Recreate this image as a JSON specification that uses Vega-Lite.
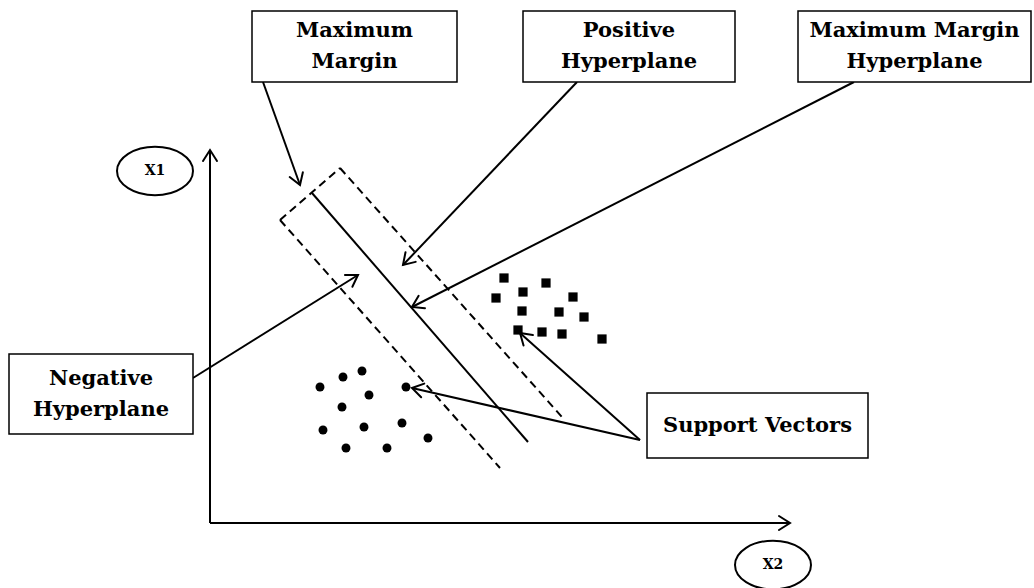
{
  "$schema": "https://vega.github.io/schema/vega-lite/v6.json",
  "width": 1034,
  "height": 588,
  "autosize": "none",
  "padding": 0,
  "background": "white",
  "config": {"view": {"stroke": null}},
  "datasets": {
    "solid": [
      {"x1": 312, "y1": 193, "x2": 528, "y2": 442}
    ],
    "dashed": [
      {"x1": 280, "y1": 220, "x2": 500, "y2": 468},
      {"x1": 340, "y1": 168, "x2": 562, "y2": 417},
      {"x1": 280, "y1": 220, "x2": 340, "y2": 168}
    ],
    "arrows": [
      {"x1": 263, "y1": 82, "x2": 300, "y2": 185},
      {"x1": 577, "y1": 82, "x2": 403, "y2": 265},
      {"x1": 854, "y1": 82, "x2": 412, "y2": 307},
      {"x1": 193, "y1": 378, "x2": 358, "y2": 275},
      {"x1": 640, "y1": 440, "x2": 412, "y2": 388},
      {"x1": 640, "y1": 440, "x2": 520, "y2": 333},
      {"x1": 210, "y1": 523, "x2": 210, "y2": 150},
      {"x1": 210, "y1": 523, "x2": 790, "y2": 523}
    ],
    "circles": [
      {"x": 320, "y": 387}, {"x": 343, "y": 377}, {"x": 362, "y": 371},
      {"x": 369, "y": 395}, {"x": 406, "y": 387}, {"x": 342, "y": 407},
      {"x": 323, "y": 430}, {"x": 364, "y": 427}, {"x": 402, "y": 423},
      {"x": 428, "y": 438}, {"x": 346, "y": 448}, {"x": 387, "y": 448}
    ],
    "squares": [
      {"x": 504, "y": 278}, {"x": 546, "y": 283}, {"x": 523, "y": 292},
      {"x": 496, "y": 298}, {"x": 573, "y": 297}, {"x": 522, "y": 311},
      {"x": 559, "y": 312}, {"x": 584, "y": 317}, {"x": 518, "y": 330},
      {"x": 542, "y": 332}, {"x": 562, "y": 334}, {"x": 602, "y": 339}
    ],
    "boxes": [
      {"x1": 252, "x2": 457, "y1": 11, "y2": 82, "label": "Maximum\nMargin"},
      {"x1": 523, "x2": 735, "y1": 11, "y2": 82, "label": "Positive\nHyperplane"},
      {"x1": 798, "x2": 1031, "y1": 11, "y2": 82, "label": "Maximum Margin\nHyperplane"},
      {"x1": 9, "x2": 193, "y1": 354, "y2": 434, "label": "Negative\nHyperplane"},
      {"x1": 647, "x2": 868, "y1": 393, "y2": 458, "label": "Support Vectors"}
    ],
    "ellipses": [
      {"x": 155, "y": 171, "label": "X1"},
      {"x": 773, "y": 565, "label": "X2"}
    ]
  },
  "layer": [
    {
      "data": {"name": "dashed"},
      "mark": {"type": "rule", "color": "black", "strokeWidth": 2, "strokeDash": [8, 5]},
      "encoding": {
        "x": {"field": "x1", "type": "quantitative", "axis": null, "scale": {"domain": [0, 1034], "nice": false, "zero": false}},
        "y": {"field": "y1", "type": "quantitative", "axis": null, "scale": {"domain": [0, 588], "nice": false, "zero": false, "reverse": true}},
        "x2": {"field": "x2"},
        "y2": {"field": "y2"}
      }
    },
    {
      "data": {"name": "solid"},
      "mark": {"type": "rule", "color": "black", "strokeWidth": 2},
      "encoding": {
        "x": {"field": "x1", "type": "quantitative", "axis": null, "scale": {"domain": [0, 1034], "nice": false, "zero": false}},
        "y": {"field": "y1", "type": "quantitative", "axis": null, "scale": {"domain": [0, 588], "nice": false, "zero": false, "reverse": true}},
        "x2": {"field": "x2"},
        "y2": {"field": "y2"}
      }
    },
    {
      "data": {"name": "arrows"},
      "mark": {"type": "rule", "color": "black", "strokeWidth": 2},
      "encoding": {
        "x": {"field": "x1", "type": "quantitative", "axis": null, "scale": {"domain": [0, 1034], "nice": false, "zero": false}},
        "y": {"field": "y1", "type": "quantitative", "axis": null, "scale": {"domain": [0, 588], "nice": false, "zero": false, "reverse": true}},
        "x2": {"field": "x2"},
        "y2": {"field": "y2"}
      }
    },
    {
      "data": {"name": "arrows"},
      "transform": [
        {"calculate": "atan2(datum.x2 - datum.x1, datum.y1 - datum.y2) * 180 / PI", "as": "heading"}
      ],
      "mark": {"type": "point", "shape": "M-0.7,1.1L0,0L0.7,1.1", "filled": false, "color": "black", "strokeWidth": 2, "size": 400, "opacity": 1, "strokeCap": "round", "strokeJoin": "miter"},
      "encoding": {
        "x": {"field": "x2", "type": "quantitative", "axis": null, "scale": {"domain": [0, 1034], "nice": false, "zero": false}},
        "y": {"field": "y2", "type": "quantitative", "axis": null, "scale": {"domain": [0, 588], "nice": false, "zero": false, "reverse": true}},
        "angle": {"field": "heading", "type": "quantitative", "scale": null}
      }
    },
    {
      "data": {"name": "circles"},
      "mark": {"type": "point", "shape": "circle", "filled": true, "color": "black", "size": 80, "opacity": 1},
      "encoding": {
        "x": {"field": "x", "type": "quantitative", "axis": null, "scale": {"domain": [0, 1034], "nice": false, "zero": false}},
        "y": {"field": "y", "type": "quantitative", "axis": null, "scale": {"domain": [0, 588], "nice": false, "zero": false, "reverse": true}}
      }
    },
    {
      "data": {"name": "squares"},
      "mark": {"type": "point", "shape": "square", "filled": true, "color": "black", "size": 85, "opacity": 1},
      "encoding": {
        "x": {"field": "x", "type": "quantitative", "axis": null, "scale": {"domain": [0, 1034], "nice": false, "zero": false}},
        "y": {"field": "y", "type": "quantitative", "axis": null, "scale": {"domain": [0, 588], "nice": false, "zero": false, "reverse": true}}
      }
    },
    {
      "data": {"name": "boxes"},
      "mark": {"type": "rect", "fill": "white", "stroke": "black", "strokeWidth": 1.5},
      "encoding": {
        "x": {"field": "x1", "type": "quantitative", "axis": null, "scale": {"domain": [0, 1034], "nice": false, "zero": false}},
        "y": {"field": "y1", "type": "quantitative", "axis": null, "scale": {"domain": [0, 588], "nice": false, "zero": false, "reverse": true}},
        "x2": {"field": "x2"},
        "y2": {"field": "y2"}
      }
    },
    {
      "data": {"name": "boxes"},
      "transform": [
        {"calculate": "(datum.x1 + datum.x2) / 2", "as": "cx"},
        {"calculate": "(datum.y1 + datum.y2) / 2 - (length(split(datum.label, '\\n')) - 1) * 15.5", "as": "cy"}
      ],
      "mark": {"type": "text", "font": "DejaVu Serif", "fontWeight": "bold", "fontSize": 21, "color": "black", "align": "center", "baseline": "middle", "lineBreak": "\n", "lineHeight": 31},
      "encoding": {
        "x": {"field": "cx", "type": "quantitative", "axis": null, "scale": {"domain": [0, 1034], "nice": false, "zero": false}},
        "y": {"field": "cy", "type": "quantitative", "axis": null, "scale": {"domain": [0, 588], "nice": false, "zero": false, "reverse": true}},
        "text": {"field": "label", "type": "nominal"}
      }
    },
    {
      "data": {"name": "ellipses"},
      "mark": {"type": "point", "shape": "M-1,0C-1,-0.3535 -0.5523,-0.64 0,-0.64C0.5523,-0.64 1,-0.3535 1,0C1,0.3535 0.5523,0.64 0,0.64C-0.5523,0.64 -1,0.3535 -1,0Z", "filled": false, "color": "black", "strokeWidth": 2, "size": 5776, "opacity": 1},
      "encoding": {
        "x": {"field": "x", "type": "quantitative", "axis": null, "scale": {"domain": [0, 1034], "nice": false, "zero": false}},
        "y": {"field": "y", "type": "quantitative", "axis": null, "scale": {"domain": [0, 588], "nice": false, "zero": false, "reverse": true}}
      }
    },
    {
      "data": {"name": "ellipses"},
      "mark": {"type": "text", "font": "DejaVu Serif", "fontWeight": "bold", "fontSize": 14, "color": "black", "align": "center", "baseline": "middle"},
      "encoding": {
        "x": {"field": "x", "type": "quantitative", "axis": null, "scale": {"domain": [0, 1034], "nice": false, "zero": false}},
        "y": {"field": "y", "type": "quantitative", "axis": null, "scale": {"domain": [0, 588], "nice": false, "zero": false, "reverse": true}},
        "text": {"field": "label", "type": "nominal"}
      }
    }
  ]
}
